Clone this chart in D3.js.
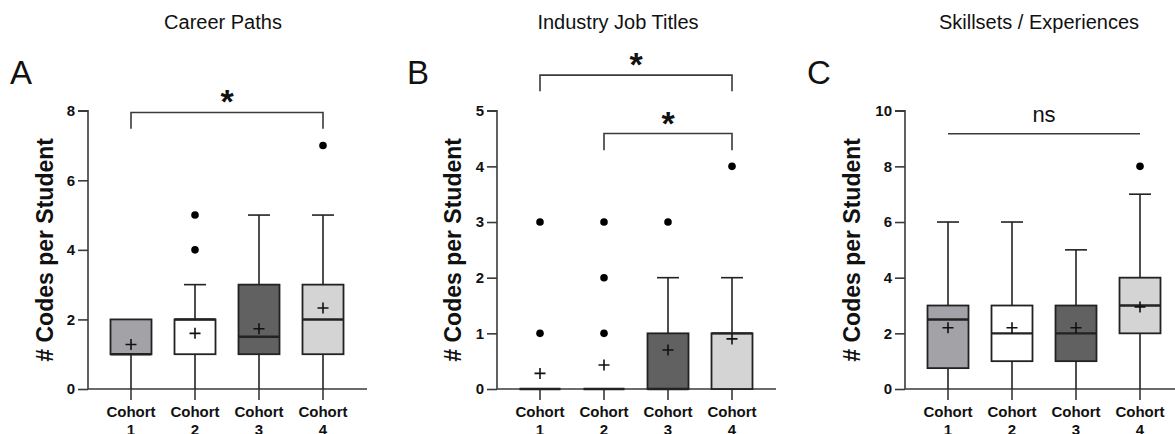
<!DOCTYPE html>
<html>
<head>
<meta charset="utf-8">
<script src="https://cdn.jsdelivr.net/npm/d3@7"></script>
<style>
html,body{margin:0;padding:0;background:#fff;}
svg{display:block;font-family:"Liberation Sans",Arial,Helvetica,sans-serif;}
</style>
</head>
<body>
<svg id="chart" width="1175" height="434"></svg>
<script>
// ---------- DATA ----------
const cohorts = ["1", "2", "3", "4"];
const cohortFills = ["#a3a2a7", "#ffffff", "#616161", "#d4d4d4"];

const panelTitles = ["Career Paths", "Industry Job Titles", "Skillsets / Experiences"];
const panelLetters = ["A", "B", "C"];
const yAxisTitle = "# Codes per Student";

const careerTicks = [0, 2, 4, 6, 8];
const careerMin = [0, 0, 0, 0];
const careerQ1 = [1, 1, 1, 1];
const careerMedian = [1, 2, 1.5, 2];
const careerQ3 = [2, 2, 3, 3];
const careerMax = [2, 3, 5, 5];
const careerMean = [1.28, 1.6, 1.73, 2.33];
const careerOutliers = [[], [4, 5], [], [7]];

const jobTicks = [0, 1, 2, 3, 4, 5];
const jobMin = [0, 0, 0, 0];
const jobQ1 = [0, 0, 0, 0];
const jobMedian = [0, 0, 0, 1];
const jobQ3 = [0, 0, 1, 1];
const jobMax = [0, 0, 2, 2];
const jobMean = [0.28, 0.43, 0.7, 0.9];
const jobOutliers = [[1, 3], [1, 2, 3], [3], [4]];

const skillTicks = [0, 2, 4, 6, 8, 10];
const skillMin = [0, 0, 0, 0];
const skillQ1 = [0.75, 1, 1, 2];
const skillMedian = [2.5, 2, 2, 3];
const skillQ3 = [3, 3, 3, 4];
const skillMax = [6, 6, 5, 7];
const skillMean = [2.2, 2.2, 2.2, 2.95];
const skillOutliers = [[], [], [], [8]];

// significance annotations
const careerSig = [{from: 0, to: 3, label: "*", level: 7.95, drop: 0.47, bracket: true}];
const jobSig = [
  {from: 0, to: 3, label: "*", level: 5.64, drop: 0.29, bracket: true},
  {from: 1, to: 3, label: "*", level: 4.59, drop: 0.3, bracket: true}
];
const skillSig = [{from: 0, to: 3, label: "ns", level: 9.17, drop: 0, bracket: false}];

// ---------- LAYOUT ----------
const svg = d3.select("#chart");
const plotTop = 110.7, plotBottom = 389;
const panels = [
  {axisX: 88, yLabelX: 45, letterX: 10, titleX: 223, ticks: careerTicks,
   min: careerMin, q1: careerQ1, med: careerMedian, q3: careerQ3, max: careerMax, mean: careerMean, out: careerOutliers, sig: careerSig},
  {axisX: 497, yLabelX: 453, letterX: 407, titleX: 618, ticks: jobTicks,
   min: jobMin, q1: jobQ1, med: jobMedian, q3: jobQ3, max: jobMax, mean: jobMean, out: jobOutliers, sig: jobSig},
  {axisX: 905, yLabelX: 852, letterX: 807, titleX: 1039, ticks: skillTicks,
   min: skillMin, q1: skillQ1, med: skillMedian, q3: skillQ3, max: skillMax, mean: skillMean, out: skillOutliers, sig: skillSig}
];

const boxW = 41, capW = 22, lineCol = "#222", axisCol = "#3a3a3a";
const FONT = '"Liberation Sans", Arial, Helvetica, sans-serif';

panels.forEach((p, pi) => {
  const g = svg.append("g");
  const y = d3.scaleLinear().domain([0, d3.max(p.ticks)]).range([plotBottom, plotTop]);
  const x = d3.scaleBand().domain(cohorts).range([p.axisX + 11, p.axisX + 11 + 256]).padding(0);
  const cx = c => x(c) + x.bandwidth() / 2;

  // title
  g.append("text").attr("x", p.titleX).attr("y", 29)
    .attr("text-anchor", "middle").style("font-size", "20px").attr("fill", "#111")
    .text(panelTitles[pi]);
  // letter
  g.append("text").attr("x", p.letterX).attr("y", 84)
    .style("font-size", "33px").attr("fill", "#111").text(panelLetters[pi]);

  // y axis
  const yAxis = d3.axisLeft(y).tickValues(p.ticks).tickSize(10).tickPadding(3).tickFormat(d3.format("d"));
  const ya = g.append("g").attr("transform", `translate(${p.axisX},0)`).call(yAxis);
  ya.attr("font-family", FONT).attr("font-size", 15);
  ya.select(".domain").attr("stroke", axisCol).attr("stroke-width", 1.6).attr("d", `M-10,${plotTop}H0V${plotBottom}`);
  ya.selectAll(".tick line").attr("stroke", axisCol).attr("stroke-width", 1.6);
  ya.selectAll(".tick text").style("font-size", "15px").style("font-weight", "bold").attr("fill", "#111")
    .style("font-family", FONT);

  // x axis
  const xAxis = d3.axisBottom(x).tickSize(11).tickFormat("");
  const xa = g.append("g").attr("transform", `translate(0,${plotBottom})`).call(xAxis);
  xa.select(".domain").attr("stroke", axisCol).attr("stroke-width", 1.6).attr("d", `M${p.axisX},0H${p.axisX + 279}`);
  xa.selectAll(".tick line").attr("stroke", axisCol).attr("stroke-width", 1.6);
  // x labels
  cohorts.forEach(c => {
    const t = g.append("text").attr("x", cx(c)).attr("text-anchor", "middle")
      .style("font-size", "15px").style("font-weight", "bold").attr("fill", "#111");
    t.append("tspan").attr("x", cx(c)).attr("y", 417).text("Cohort");
    t.append("tspan").attr("x", cx(c)).attr("y", 435).text(c);
  });

  // y title
  g.append("text").attr("transform", `translate(${p.yLabelX + 8},${(plotTop + plotBottom) / 2}) rotate(-90)`)
    .attr("text-anchor", "middle").style("font-size", "23px").style("font-weight", "bold").attr("fill", "#111")
    .text(yAxisTitle);

  // boxes
  cohorts.forEach((c, i) => {
    const xc = cx(c);
    if (p.max[i] > p.q3[i]) {
      g.append("line").attr("x1", xc).attr("x2", xc).attr("y1", y(p.q3[i])).attr("y2", y(p.max[i]))
        .attr("stroke", lineCol).attr("stroke-width", 1.6);
      g.append("line").attr("x1", xc - capW / 2).attr("x2", xc + capW / 2).attr("y1", y(p.max[i])).attr("y2", y(p.max[i]))
        .attr("stroke", lineCol).attr("stroke-width", 1.6);
    }
    if (p.min[i] < p.q1[i]) {
      g.append("line").attr("x1", xc).attr("x2", xc).attr("y1", y(p.q1[i])).attr("y2", y(p.min[i]))
        .attr("stroke", lineCol).attr("stroke-width", 1.6);
    }
    g.append("rect").attr("x", xc - boxW / 2).attr("width", boxW)
      .attr("y", y(p.q3[i])).attr("height", Math.max(0, y(p.q1[i]) - y(p.q3[i])))
      .attr("fill", cohortFills[i]).attr("stroke", lineCol).attr("stroke-width", 1.8);
    g.append("line").attr("x1", xc - boxW / 2).attr("x2", xc + boxW / 2)
      .attr("y1", y(p.med[i])).attr("y2", y(p.med[i]))
      .attr("stroke", lineCol).attr("stroke-width", 2.4);
    const my = y(p.mean[i]);
    g.append("path").attr("d", `M${xc - 5.5},${my}H${xc + 5.5}M${xc},${my - 5.5}V${my + 5.5}`)
      .attr("stroke", "#111").attr("stroke-width", 1.6).attr("fill", "none");
    p.out[i].forEach(v => {
      g.append("circle").attr("cx", xc).attr("cy", y(v)).attr("r", 3.8).attr("fill", "#000");
    });
  });

  // significance
  p.sig.forEach(s => {
    const x1 = cx(cohorts[s.from]), x2 = cx(cohorts[s.to]);
    const ly = y(s.level);
    if (s.bracket) {
      const dy = y(s.level - s.drop);
      g.append("path").attr("d", `M${x1},${dy}V${ly}H${x2}V${dy}`)
        .attr("fill", "none").attr("stroke", axisCol).attr("stroke-width", 1.6);
      g.append("text").attr("x", (x1 + x2) / 2).attr("y", ly + 1)
        .attr("text-anchor", "middle").style("font-size", "34px").style("font-weight", "bold").attr("fill", "#111")
        .text(s.label);
    } else {
      g.append("path").attr("d", `M${x1},${ly}H${x2}`)
        .attr("fill", "none").attr("stroke", axisCol).attr("stroke-width", 1.6);
      g.append("text").attr("x", (x1 + x2) / 2).attr("y", ly - 12)
        .attr("text-anchor", "middle").style("font-size", "22px").attr("fill", "#111")
        .text(s.label);
    }
  });
});
</script>
</body>
</html>
